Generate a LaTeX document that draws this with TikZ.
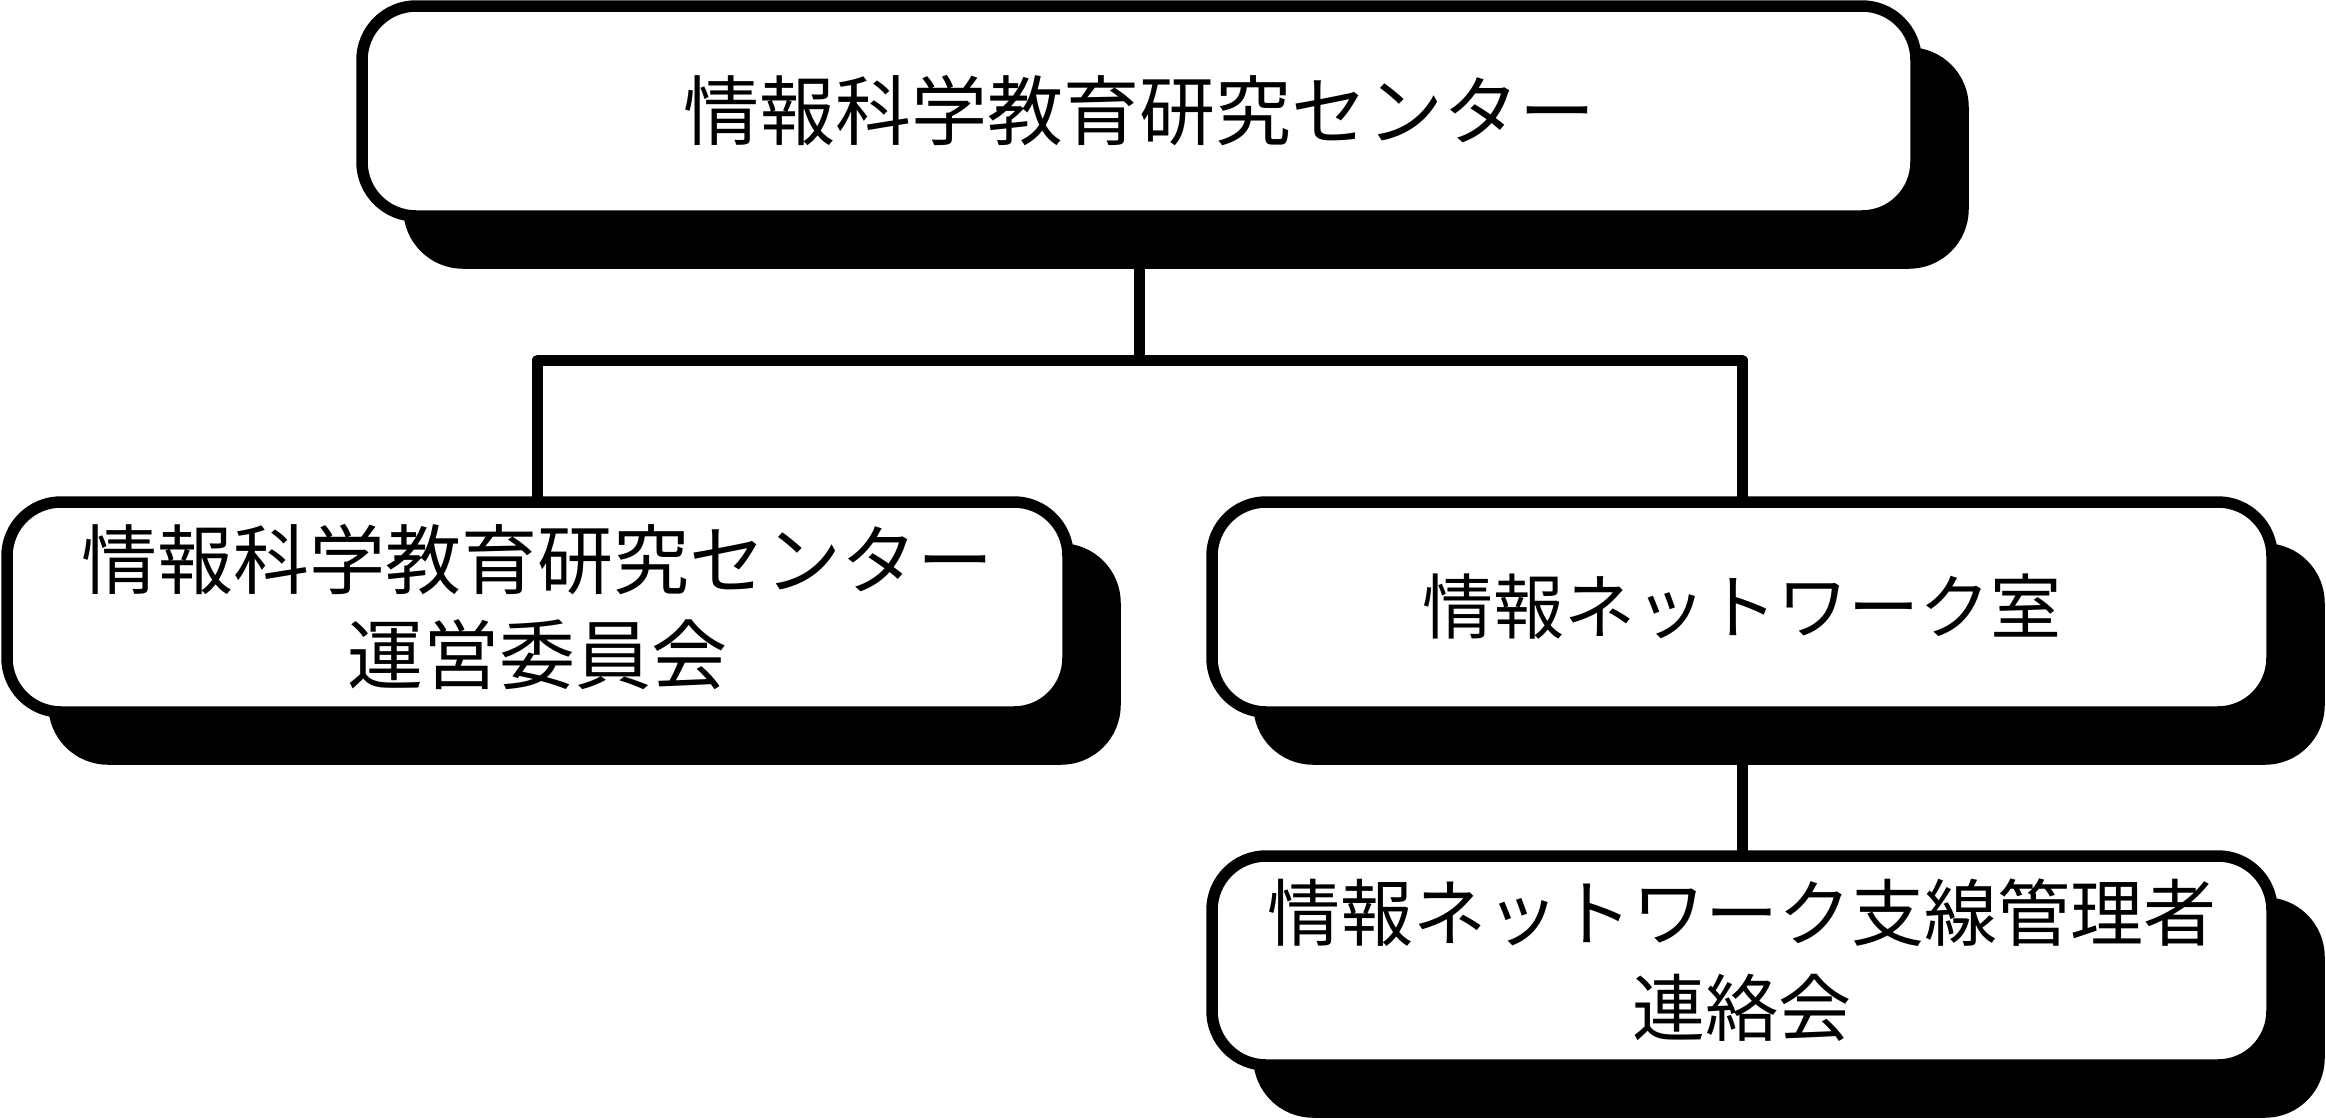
\documentclass[tikz,border=0pt]{standalone}
\usepackage{fontspec}
\newfontfamily\jp{Noto Sans CJK JP}
\usetikzlibrary{backgrounds}
\begin{document}
\begin{tikzpicture}[x=1pt,y=-1pt,
  box/.style={draw=black, fill=white, line width=11.5pt, rounded corners=54pt,
    rectangle, inner sep=0pt, outer sep=0pt, align=center,
    font=\jp\fontsize{76}{95}\selectfont},
  shadowbox/.style={draw=black, fill=black, line width=11.5pt, rounded corners=54pt},
  conn/.style={draw=black, line width=11pt, line join=round}]
\useasboundingbox (0,0) rectangle (2326,1119);
\node[box, minimum width=1554pt, minimum height=210pt] (top) at (1139,111) {情報科学教育研究センター};
\node[box, minimum width=1061pt, minimum height=210pt] (left) at (537.5,607) {情報科学教育研究センター\\運営委員会};
\node[box, minimum width=1060pt, minimum height=210pt, font=\jp\fontsize{71}{95}\selectfont] (right) at (1742,607) {情報ネットワーク室};
\node[box, minimum width=1060pt, minimum height=209pt, font=\jp\fontsize{73}{95}\selectfont] (bottom) at (1742,960.5) {情報ネットワーク支線管理者\\連絡会};
\coordinate (bus) at (0,360);
\begin{pgfonlayer}{background}
  \draw[conn] (top.south) -- (top.south |- bus);
  \draw[conn] (left.north) -- (left.north |- bus) -- (right.north |- bus) -- (right.north);
  \draw[conn] (right.south) -- (bottom.north);
  \foreach \n in {top,left,right,bottom}{
    \draw[shadowbox] ([shift={(47,47)}]\n.north west) rectangle ([shift={(47,47)}]\n.south east);
  }
\end{pgfonlayer}
\end{tikzpicture}
\end{document}
